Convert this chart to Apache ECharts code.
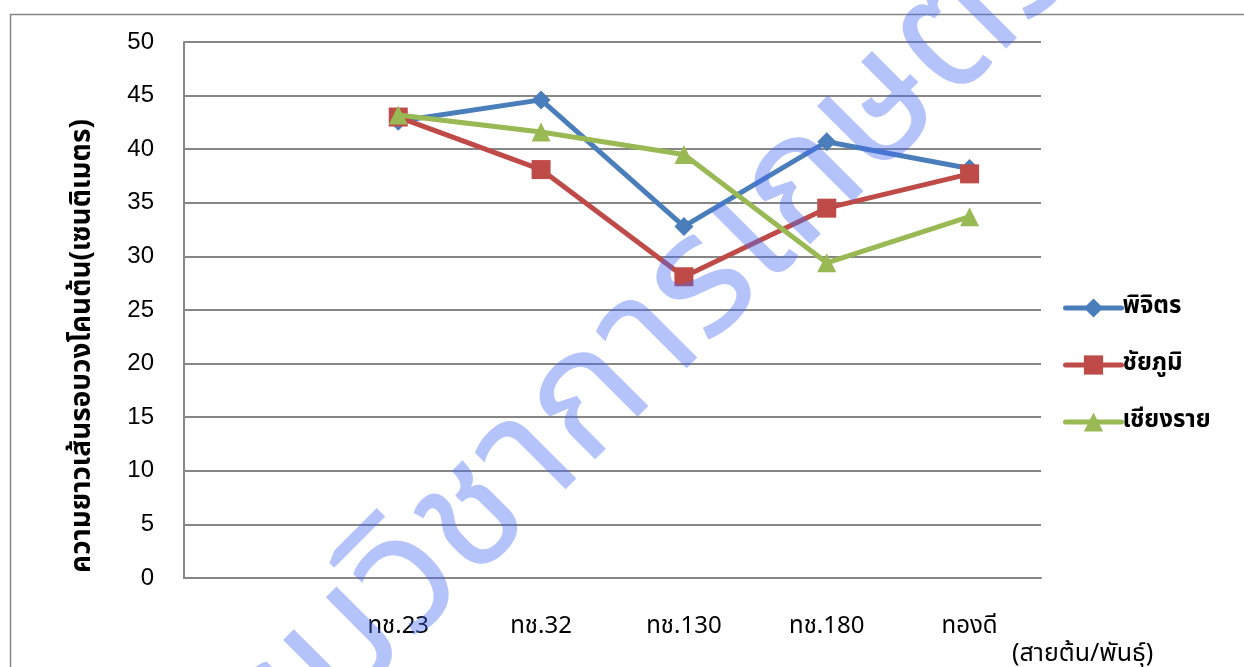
<!DOCTYPE html>
<html>
<head>
<meta charset="utf-8">
<script src="https://cdn.jsdelivr.net/npm/echarts@6/dist/echarts.min.js"></script>
<style>
  html, body { margin: 0; padding: 0; background: #ffffff; }
  #chart { width: 1244px; height: 667px; }
</style>
</head>
<body>
<div id="chart"></div>
<script>
// Varieties along the x axis (first slot left blank)
const categories = ['', 'ทช.23', 'ทช.32', 'ทช.130', 'ทช.180', 'ทองดี'];
// Stem girth (cm) per location
const phichit    = [null, 42.6, 44.6, 32.8, 40.7, 38.2];
const chaiyaphum = [null, 43.0, 38.1, 28.1, 34.5, 37.7];
const chiangrai  = [null, 43.2, 41.6, 39.5, 29.4, 33.7];
const seriesNames = ['พิจิตร', 'ชัยภูมิ', 'เชียงราย'];
const yTicks = { min: 0, max: 50, interval: 5 };

const thaiFont = "Tahoma, 'Noto Sans Thai', 'Noto Sans Thai UI', 'DejaVu Sans', sans-serif";
const colors = ['#4a7ebb', '#be4b48', '#98b954'];
const symbols = ['diamond', 'rect', 'triangle'];
const values = [phichit, chaiyaphum, chiangrai];

const chart = echarts.init(document.getElementById('chart'));

chart.setOption({
  backgroundColor: '#ffffff',
  animation: false,
  grid: { left: 184, right: 203, top: 42, bottom: 89, containLabel: false },
  xAxis: {
    type: 'category',
    data: categories,
    boundaryGap: true,
    axisLine: { lineStyle: { color: '#868686', width: 2 } },
    axisTick: { show: false },
    axisLabel: { color: '#000', fontFamily: thaiFont, fontSize: 24, margin: 38 }
  },
  yAxis: {
    type: 'value',
    min: yTicks.min, max: yTicks.max, interval: yTicks.interval,
    axisLine: { show: true, lineStyle: { color: '#868686', width: 2 } },
    axisTick: { show: false },
    axisLabel: { color: '#000', fontFamily: 'Liberation Sans', fontSize: 24, margin: 30 },
    splitLine: { lineStyle: { color: '#868686', width: 2 } }
  },
  legend: {
    orient: 'vertical',
    left: 1058,
    top: 291,
    itemWidth: 56,
    itemHeight: 24,
    itemGap: 33,
    lineStyle: { width: 5, cap: 'round' },
    textStyle: { color: '#000', fontFamily: thaiFont, fontSize: 24, fontWeight: 'bold', padding: [0, 0, 0, -4] },
    data: seriesNames
  },
  series: values.map((v, i) => ({
    name: seriesNames[i],
    type: 'line',
    data: v,
    symbol: symbols[i],
    symbolSize: 19,
    lineStyle: { color: colors[i], width: 5 },
    itemStyle: { color: colors[i] },
    z: 2 + i
  })),
  graphic: [
    {
      type: 'rect',
      shape: { x: 10.5, y: 14.5, width: 1400, height: 800 },
      style: { fill: 'none', stroke: '#868686', lineWidth: 1.5 },
      silent: true, z: -1
    },
    {
      // y-axis title
      type: 'text',
      x: 84, y: 346,
      rotation: Math.PI / 2,
      style: {
        text: 'ความยาวเส้นรอบวงโคนต้น(เซนติเมตร)',
        font: 'bold 28px ' + thaiFont,
        fill: '#000',
        align: 'center',
        verticalAlign: 'middle'
      },
      z: 10
    },
    {
      type: 'text',
      x: 1012, y: 643,
      style: { text: '(สายต้น/พันธุ์)', font: '25px ' + thaiFont, fill: '#000' },
      z: 10
    },
    {
      // organisation watermark across the plot
      type: 'text',
      x: 622, y: 384,
      rotation: Math.PI / 4,
      style: {
        text: 'กรมวิชาการเกษตร',
        font: '170px ' + thaiFont,
        fill: 'rgba(70, 105, 245, 0.40)',
        align: 'center',
        verticalAlign: 'middle'
      },
      silent: true,
      z: 100
    }
  ]
});
</script>
</body>
</html>
